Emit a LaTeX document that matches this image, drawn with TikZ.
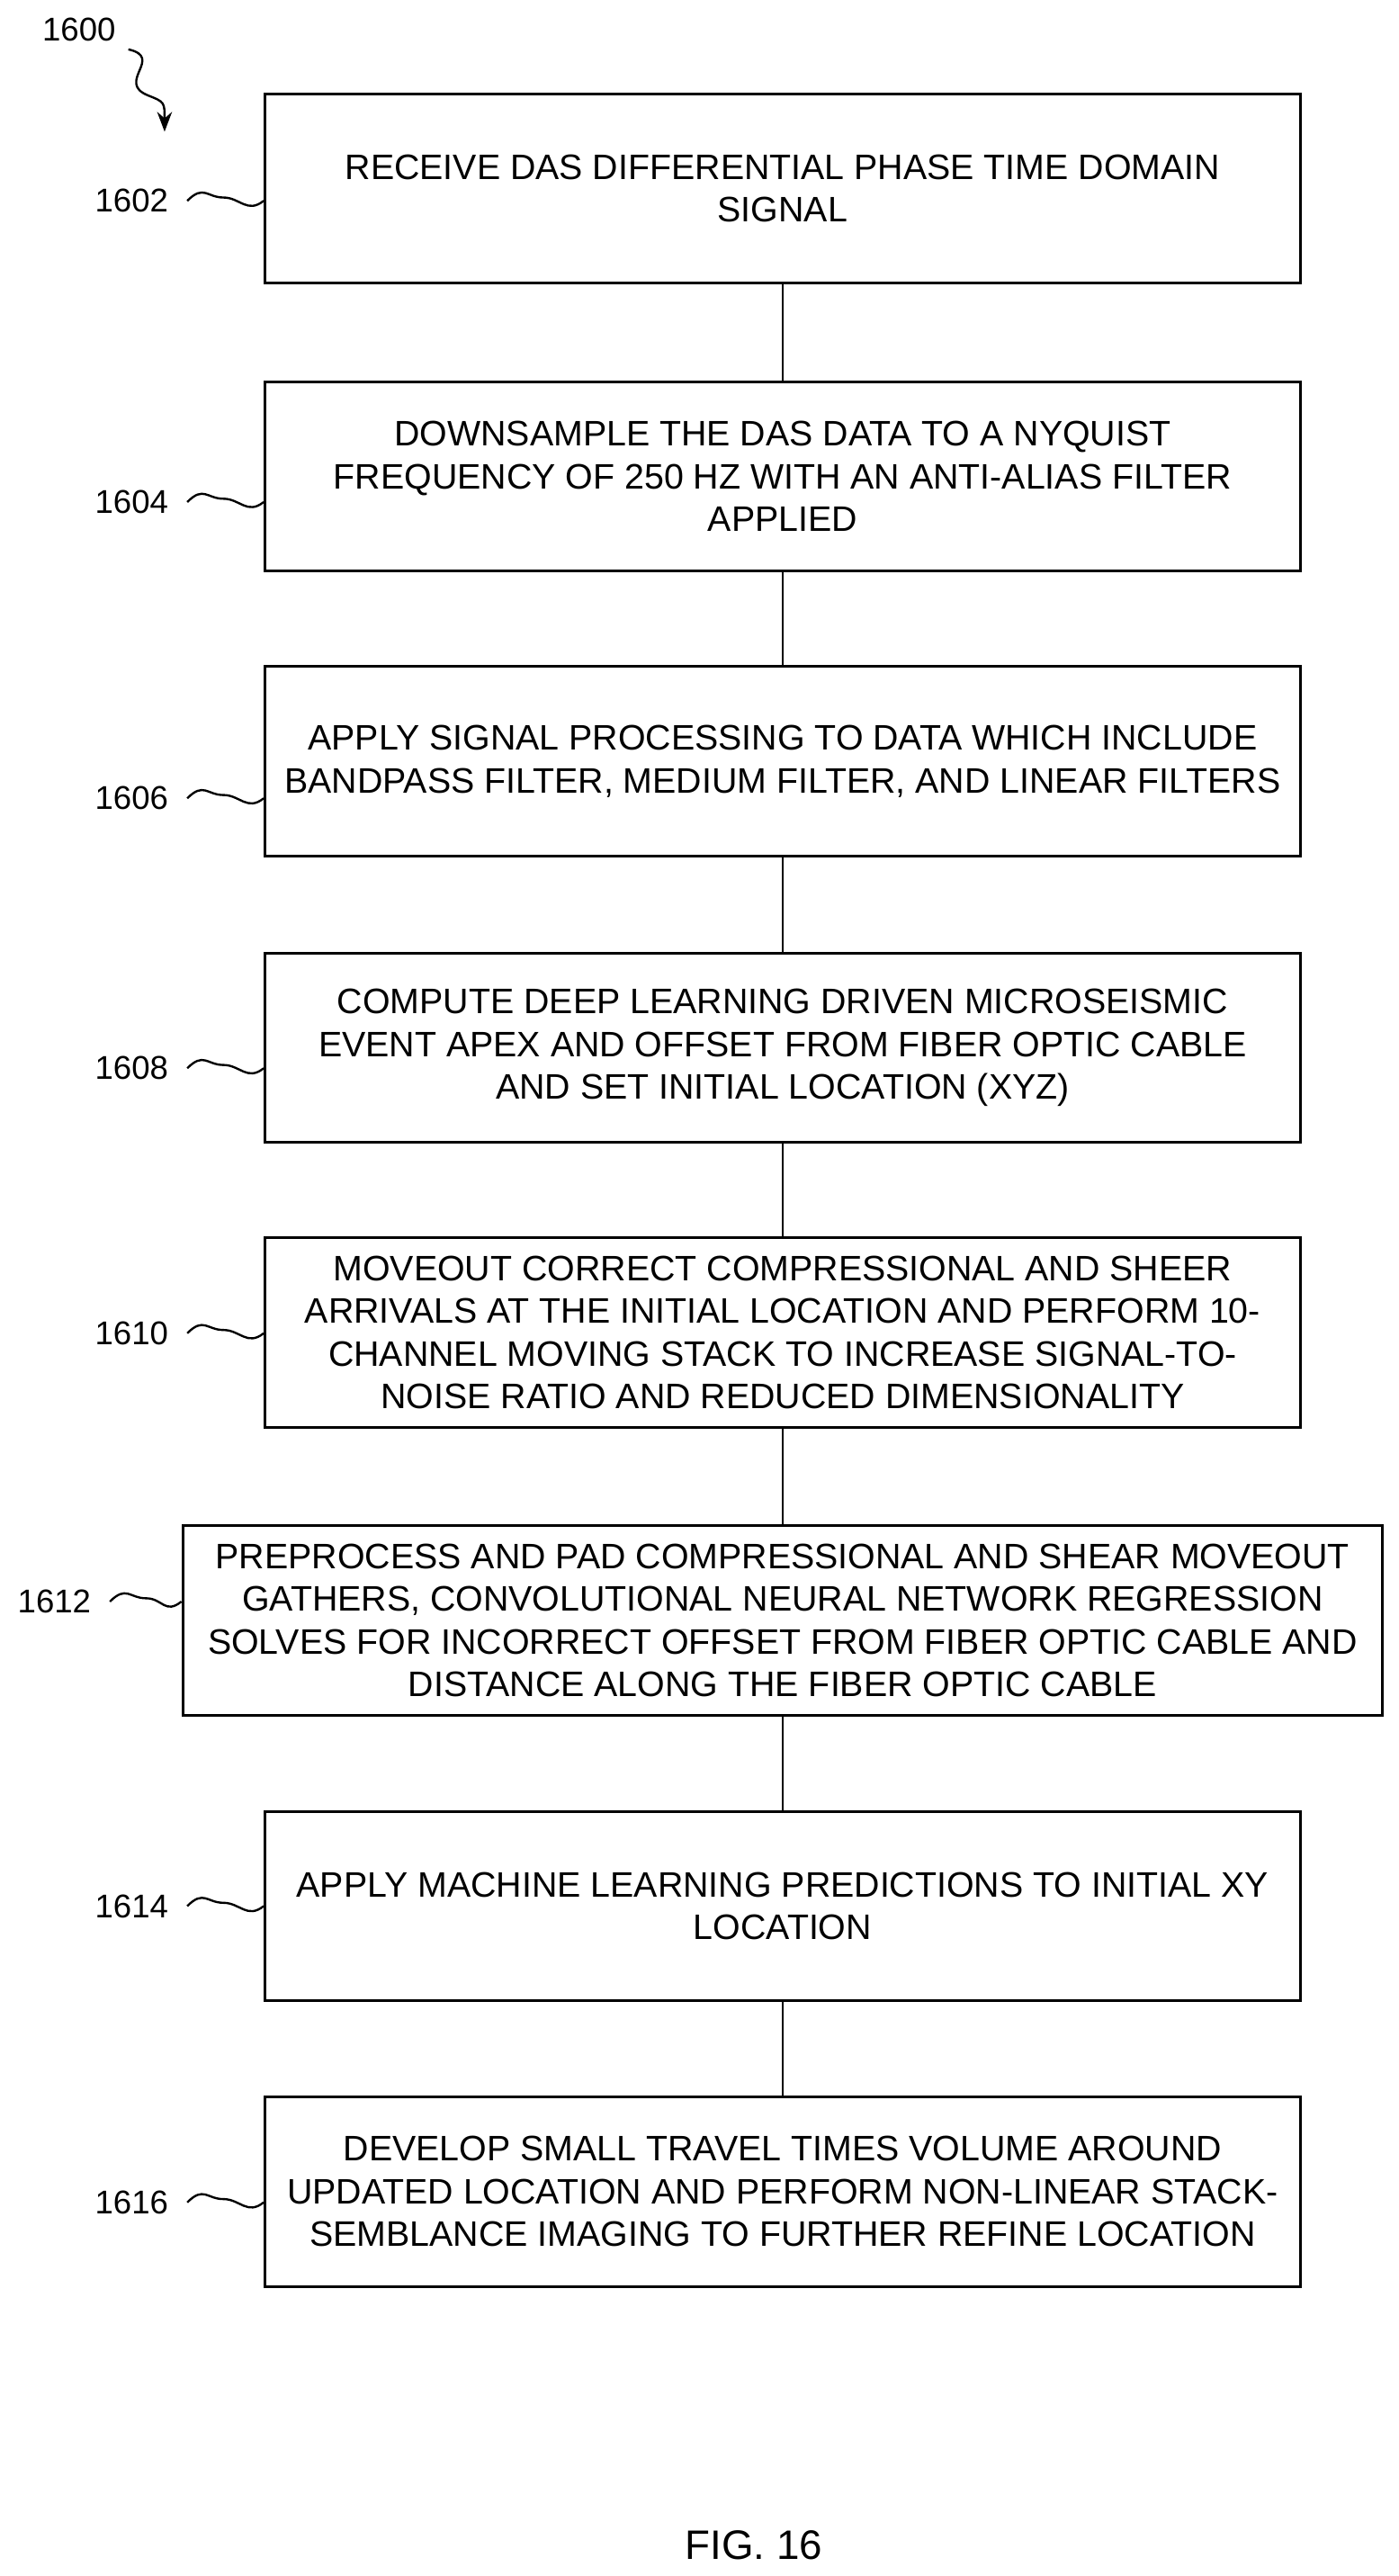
\documentclass[tikz,border=0pt]{standalone}
\usepackage{fontspec}
\setmainfont{Liberation Sans}
\usetikzlibrary{arrows.meta}
\begin{document}
\begin{tikzpicture}[x=1pt,y=-1pt,
 box/.style={draw,line width=1.6pt,minimum height=115pt,align=center,font=\fontsize{21.5}{26}\selectfont,inner sep=0pt},
 lab/.style={font=\fontsize{20}{22}\selectfont,anchor=center},
 sq/.style={line width=1.3pt},
 con/.style={line width=1.3pt}]
\useasboundingbox (0,0) rectangle (850,1565);
\def\bx#1#2#3#4#5#6{\node[box,minimum width=#2pt] (b#1) at (475.5,#3) {#6};
 \node[lab] (l#1) at (#4,#5) {#1};}
\bx{1602}{629}{114.5}{80}{122}{RECEIVE DAS DIFFERENTIAL PHASE TIME DOMAIN\\SIGNAL}
\bx{1604}{629}{289.5}{80}{305}{DOWNSAMPLE THE DAS DATA TO A NYQUIST\\FREQUENCY OF 250 HZ WITH AN ANTI-ALIAS FILTER\\APPLIED}
\bx{1606}{629}{462.5}{80}{485}{APPLY SIGNAL PROCESSING TO DATA WHICH INCLUDE\\BANDPASS FILTER, MEDIUM FILTER, AND LINEAR FILTERS}
\bx{1608}{629}{636.5}{80}{649}{COMPUTE DEEP LEARNING DRIVEN MICROSEISMIC\\EVENT APEX AND OFFSET FROM FIBER OPTIC CABLE\\AND SET INITIAL LOCATION (XYZ)}
\bx{1610}{629}{809.5}{80}{810}{MOVEOUT CORRECT COMPRESSIONAL AND SHEER\\ARRIVALS AT THE INITIAL LOCATION AND PERFORM 10-\\CHANNEL MOVING STACK TO INCREASE SIGNAL-TO-\\NOISE RATIO AND REDUCED DIMENSIONALITY}
\bx{1612}{729}{984.5}{33}{973}{PREPROCESS AND PAD COMPRESSIONAL AND SHEAR MOVEOUT\\GATHERS, CONVOLUTIONAL NEURAL NETWORK REGRESSION\\SOLVES FOR INCORRECT OFFSET FROM FIBER OPTIC CABLE AND\\DISTANCE ALONG THE FIBER OPTIC CABLE}
\bx{1614}{629}{1158}{80}{1158}{APPLY MACHINE LEARNING PREDICTIONS TO INITIAL XY\\LOCATION}
\bx{1616}{629}{1331.5}{80}{1338}{DEVELOP SMALL TRAVEL TIMES VOLUME AROUND\\UPDATED LOCATION AND PERFORM NON-LINEAR STACK-\\SEMBLANCE IMAGING TO FURTHER REFINE LOCATION}
\foreach \a/\b in {1602/1604,1604/1606,1606/1608,1608/1610,1610/1612,1612/1614,1614/1616}
 \draw[con] (b\a.south) -- (b\b.north);
\foreach \n in {1602,1604,1606,1608,1610,1612,1614,1616}
 \draw[sq] ([xshift=8pt]l\n.east) .. controls +(10,-10) and +(-10,0) .. ++(22,-2) .. controls +(10,0) and +(-10,8) .. (b\n.west |- l\n.east);
\node[lab] (l1600) at (48,18) {1600};
\coordinate (a1600) at (100,80);
\draw[sq,-{Stealth[length=12pt,width=9pt]}] (78,30) .. controls (100,35) and (70,50) .. (90,58) .. controls (100,62) .. (a1600);
\node[font=\fontsize{25}{28}\selectfont] (fig) at (458,1546) {FIG. 16};
\end{tikzpicture}
\end{document}
